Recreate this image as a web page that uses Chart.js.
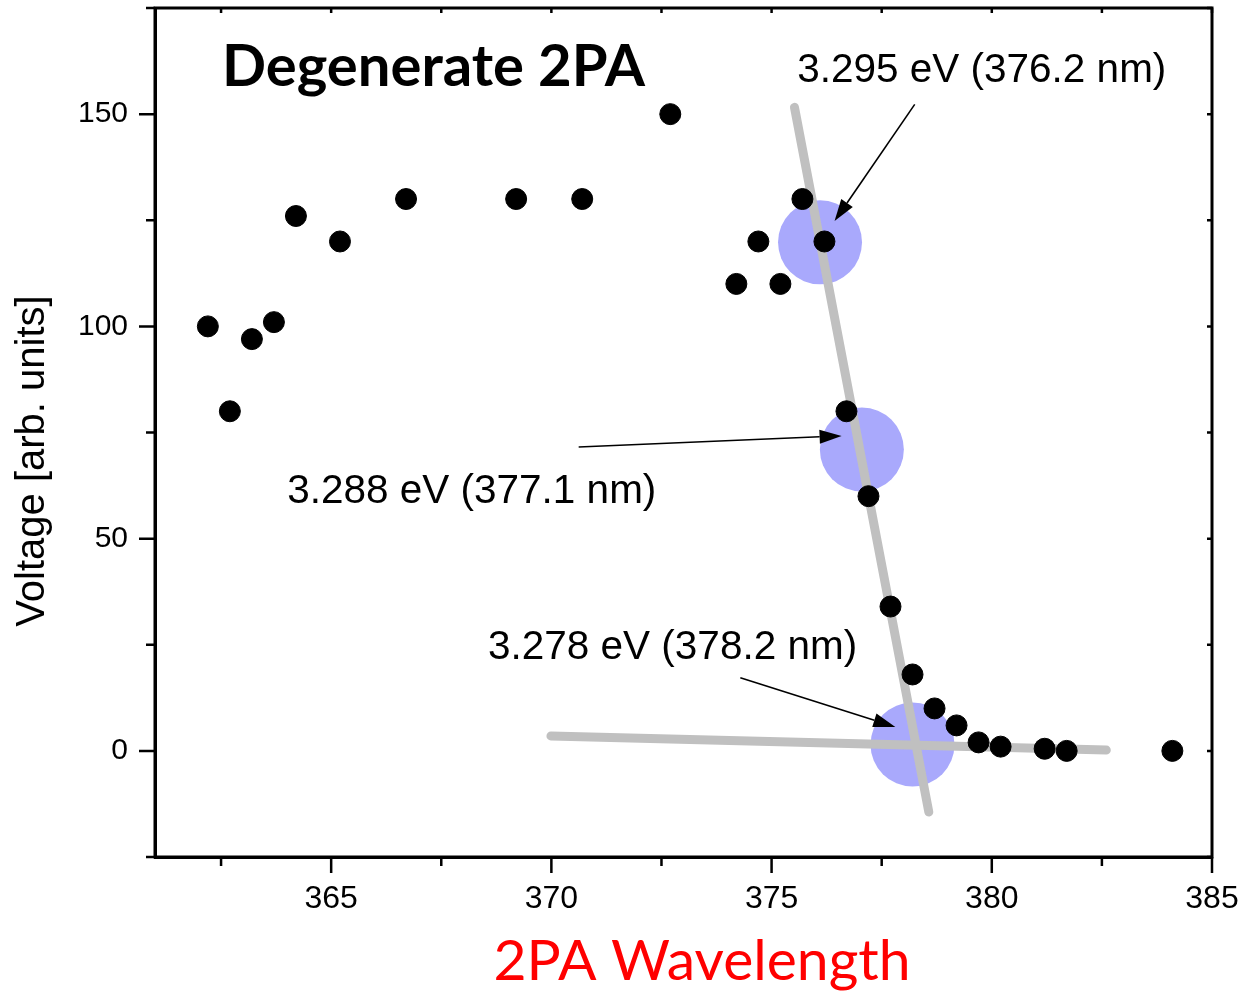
<!DOCTYPE html>
<html>
<head>
<meta charset="utf-8">
<script src="https://cdn.jsdelivr.net/npm/chart.js@4.4.0/dist/chart.umd.min.js"></script>
<style>
  html, body { margin: 0; padding: 0; background: #fff; }
  #wrap { width: 1238px; height: 992px; }
</style>
</head>
<body>
<div id="wrap"><canvas id="myChart" width="1238" height="992"></canvas></div>
<script>
// measured points
var wavelength = [362.2, 362.7, 363.2, 363.7, 364.2, 365.2, 366.7, 369.2, 370.7, 372.7, 374.2, 374.7, 375.2,
                  375.7, 376.2, 376.7, 377.2, 377.7, 378.2, 378.7, 379.2, 379.7, 380.2, 381.2, 381.7, 384.1];
var voltage = [100, 80, 97, 101, 126, 120, 130, 130, 130, 150, 110, 120, 110,
               130, 120, 80, 60, 34, 18, 10, 6, 2, 1, 0.5, 0, 0];

// the two grey fit lines
var fitSteepX = [375.52, 378.57];
var fitSteepY = [151.6, -14.4];
var fitFlatX = [369.99, 382.6];
var fitFlatY = [3.5, 0.2];

// highlighted energies (blue discs)
var markX = [376.1, 377.05, 378.2];
var markY = [119.8, 71, 1.5];

// annotation labels and arrows (data coords)
var noteText = ['3.295 eV (376.2 nm)', '3.288 eV (377.1 nm)', '3.278 eV (378.2 nm)'];
var noteX = [375.58, 364.0, 368.56];
var noteY = [157.5, 58.4, 21.7];
var arrowFromX = [378.25, 370.62, 374.29];
var arrowFromY = [152.3, 71.6, 17.2];
var arrowToX = [376.43, 376.59, 377.81];
var arrowToY = [124.8, 74.2, 5.65];

var xTicks = [362.5, 365, 367.5, 370, 372.5, 375, 377.5, 380, 382.5, 385];
var yTicks = [-25, 0, 25, 50, 75, 100, 125, 150, 175];
var xMajor = 5, yMajor = 50;

function pts(xs, ys) {
    return xs.map(function (x, i) { return { x: x, y: ys[i] }; });
}

function noPad(s) {
    s.paddingTop = 0; s.paddingBottom = 0; s.paddingLeft = 0; s.paddingRight = 0;
}

var extras = {
    id: 'extras',
    afterDraw: function (chart) {
        var c = chart.ctx, a = chart.chartArea;
        var xs = chart.scales.x, ys = chart.scales.y;
        c.save();

        // arrows
        c.strokeStyle = '#000';
        c.fillStyle = '#000';
        c.lineWidth = 1.6;
        for (var i = 0; i < arrowFromX.length; i++) {
            var x0 = xs.getPixelForValue(arrowFromX[i]), y0 = ys.getPixelForValue(arrowFromY[i]);
            var x1 = xs.getPixelForValue(arrowToX[i]), y1 = ys.getPixelForValue(arrowToY[i]);
            var ang = Math.atan2(y1 - y0, x1 - x0);
            var hl = 22, hw = 7;
            var bx = x1 - hl * Math.cos(ang), by = y1 - hl * Math.sin(ang);
            c.beginPath();
            c.moveTo(x0, y0);
            c.lineTo(bx, by);
            c.stroke();
            c.beginPath();
            c.moveTo(x1, y1);
            c.lineTo(bx + hw * Math.sin(ang), by - hw * Math.cos(ang));
            c.lineTo(bx - hw * Math.sin(ang), by + hw * Math.cos(ang));
            c.closePath();
            c.fill();
        }

        // annotation text
        c.font = '40.5px "Liberation Sans", Arial, sans-serif';
        c.textAlign = 'left';
        c.textBaseline = 'alphabetic';
        for (var j = 0; j < noteText.length; j++) {
            c.fillText(noteText[j], xs.getPixelForValue(noteX[j]), ys.getPixelForValue(noteY[j]));
        }

        // panel title
        c.font = 'bold 58px Lato, sans-serif';
        c.fillText('Degenerate 2PA', xs.getPixelForValue(362.52), ys.getPixelForValue(156.6));

        // frame
        c.lineWidth = 3;
        c.strokeStyle = '#000';
        c.strokeRect(a.left, a.top, a.right - a.left, a.bottom - a.top);

        // tick marks: outside on left/bottom, short inside on top/right
        c.lineWidth = 2.5;
        c.beginPath();
        xTicks.forEach(function (v) {
            var px = xs.getPixelForValue(v);
            var len = (v % xMajor === 0) ? 16 : 9;
            c.moveTo(px, a.bottom); c.lineTo(px, a.bottom + len);
            c.moveTo(px, a.top); c.lineTo(px, a.top + 5);
        });
        yTicks.forEach(function (v) {
            var py = ys.getPixelForValue(v);
            var len = (v % yMajor === 0) ? 16 : 9;
            c.moveTo(a.left, py); c.lineTo(a.left - len, py);
            c.moveTo(a.right, py); c.lineTo(a.right - 5, py);
        });
        c.stroke();

        // axis titles
        c.fillStyle = '#ff0000';
        c.font = '57px Lato, sans-serif';
        c.textAlign = 'center';
        c.fillText('2PA Wavelength', 702, 980);

        c.fillStyle = '#000';
        c.font = '40px "Liberation Sans", Arial, sans-serif';
        c.translate(44, 461);
        c.rotate(-Math.PI / 2);
        c.fillText('Voltage [arb. units]', 0, 0);
        c.restore();
    }
};

var ctx = document.getElementById('myChart').getContext('2d');
var chart = new Chart(ctx, {
    type: 'scatter',
    data: {
        datasets: [{
            label: 'data',
            data: pts(wavelength, voltage),
            backgroundColor: '#000',
            borderColor: '#000',
            pointRadius: 10.5,
            order: 0
        }, {
            label: 'fit steep',
            type: 'line',
            data: pts(fitSteepX, fitSteepY),
            borderColor: '#c0c0c0',
            borderWidth: 9,
            borderCapStyle: 'round',
            pointRadius: 0,
            order: 1
        }, {
            label: 'fit flat',
            type: 'line',
            data: pts(fitFlatX, fitFlatY),
            borderColor: '#c0c0c0',
            borderWidth: 9,
            borderCapStyle: 'round',
            pointRadius: 0,
            order: 1
        }, {
            label: 'marks',
            data: pts(markX, markY),
            backgroundColor: '#a9a9fc',
            borderWidth: 0,
            pointRadius: 42,
            order: 2
        }]
    },
    options: {
        responsive: false,
        animation: false,
        layout: { autoPadding: false, padding: { top: 8, right: 26, left: 0, bottom: 0 } },
        plugins: {
            legend: { display: false },
            tooltip: { enabled: false }
        },
        scales: {
            x: {
                type: 'linear',
                min: 361,
                max: 385,
                afterBuildTicks: function (s) { s.ticks = xTicks.map(function (v) { return { value: v }; }); },
                afterFit: function (s) { s.height = 135; noPad(s); },
                grid: { display: true, drawOnChartArea: false, drawTicks: false },
                border: { display: true, color: '#000', width: 3 },
                ticks: {
                    padding: 23,
                    color: '#000',
                    maxRotation: 0,
                    font: { family: '"Liberation Sans", Arial, sans-serif', size: 32 },
                    callback: function (v) { return v % xMajor === 0 ? String(v) : ''; }
                }
            },
            y: {
                type: 'linear',
                min: -25,
                max: 175,
                afterBuildTicks: function (s) { s.ticks = yTicks.map(function (v) { return { value: v }; }); },
                afterFit: function (s) { s.width = 155; noPad(s); },
                grid: { display: true, drawOnChartArea: false, drawTicks: false },
                border: { display: true, color: '#000', width: 3 },
                ticks: {
                    padding: 27,
                    color: '#000',
                    font: { family: '"Liberation Sans", Arial, sans-serif', size: 30 },
                    callback: function (v) { return v % yMajor === 0 ? String(v) : ''; }
                }
            }
        }
    },
    plugins: [extras]
});
</script>
</body>
</html>
